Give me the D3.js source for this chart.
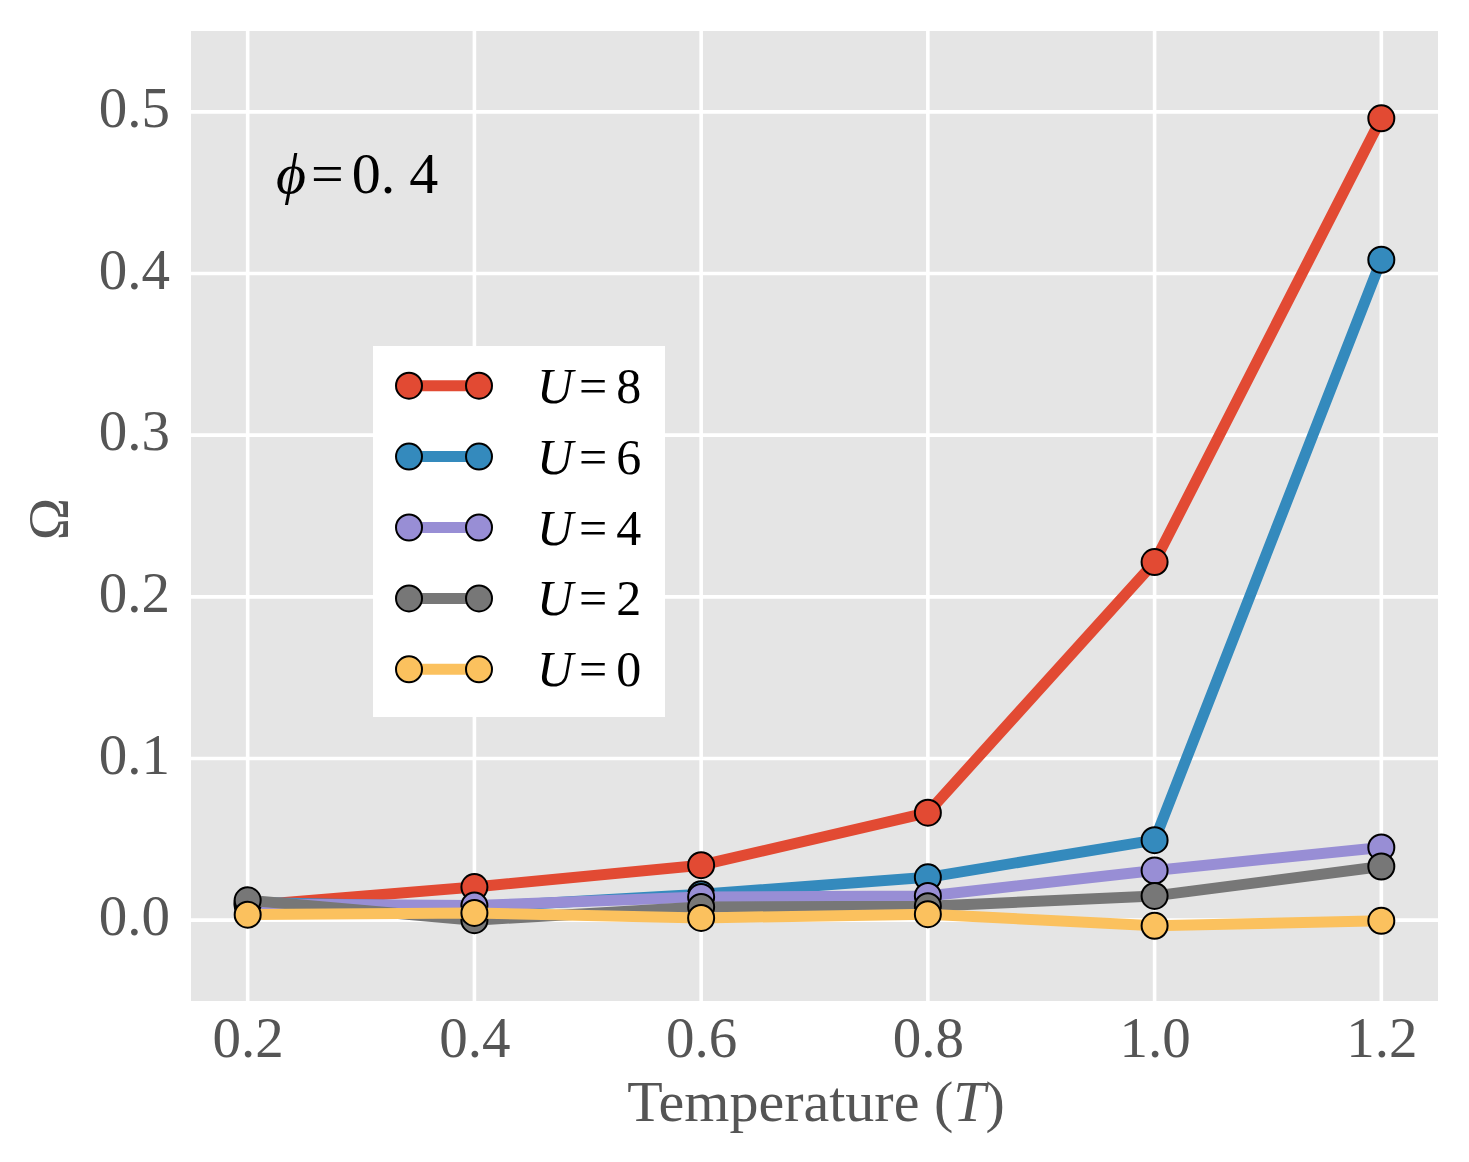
<!DOCTYPE html>
<html>
<head>
<meta charset="utf-8">
<script src="https://cdn.jsdelivr.net/npm/d3@7"></script>
<style>
body { margin: 0; background: #fff; }
text { font-family: "Liberation Serif", "DejaVu Serif", serif; }
</style>
</head>
<body>
<svg id="chart" width="1469" height="1162"></svg>
<script>
// values
const temperatures = [0.2, 0.4, 0.6, 0.8, 1.0, 1.2];
const seriesLabels = ["8", "6", "4", "2", "0"];
const omegaU8 = [0.009, 0.0205, 0.034, 0.0665, 0.2215, 0.496];
const omegaU6 = [0.011, 0.008, 0.016, 0.0265, 0.0495, 0.4085];
const omegaU4 = [0.010, 0.009, 0.0143, 0.015, 0.0307, 0.045];
const omegaU2 = [0.0123, 0.0, 0.0082, 0.0086, 0.015, 0.0332];
const omegaU0 = [0.0034, 0.0045, 0.0014, 0.0037, -0.0035, -0.0004];
const xTicks = [0.2, 0.4, 0.6, 0.8, 1.0, 1.2];
const yTicks = [0.0, 0.1, 0.2, 0.3, 0.4, 0.5];
const seriesColors = ["#E24A33", "#348ABD", "#988ED5", "#777777", "#FBC15E"];

const allSeries = [omegaU8, omegaU6, omegaU4, omegaU2, omegaU0];

const svg = d3.select("#chart");
const plotLeft = 191, plotRight = 1438, plotTop = 31, plotBottom = 1001;

const x = d3.scaleLinear().domain([0.15, 1.25]).range([plotLeft, plotRight]);
const y = d3.scaleLinear().domain([-0.05, 0.55]).range([plotBottom, plotTop]);

// panel background
svg.append("rect")
    .attr("x", plotLeft).attr("y", plotTop)
    .attr("width", plotRight - plotLeft).attr("height", plotBottom - plotTop)
    .attr("fill", "#E5E5E5");

// grid
const grid = svg.append("g").attr("stroke", "#fff").attr("stroke-width", 3.6);
grid.selectAll("line.gx").data(xTicks).join("line").attr("class", "gx")
    .attr("x1", d => x(d)).attr("x2", d => x(d))
    .attr("y1", plotTop).attr("y2", plotBottom);
grid.selectAll("line.gy").data(yTicks).join("line").attr("class", "gy")
    .attr("y1", d => y(d)).attr("y2", d => y(d))
    .attr("x1", plotLeft).attr("x2", plotRight);

// axes (tick labels only)
const xAxis = svg.append("g").attr("transform", "translate(0," + plotBottom + ")")
    .call(d3.axisBottom(x).tickValues(xTicks).tickFormat(d3.format(".1f")).tickSize(0).tickPadding(56));
const yAxis = svg.append("g").attr("transform", "translate(" + plotLeft + ",0)")
    .call(d3.axisLeft(y).tickValues(yTicks).tickFormat(d3.format(".1f")).tickSize(0).tickPadding(21));
[xAxis, yAxis].forEach(a => {
    a.select(".domain").remove();
    a.selectAll("text")
        .attr("fill", "#555555")
        .style("font-family", '"Liberation Serif", serif')
        .style("font-size", "57px");
});
xAxis.selectAll("text").attr("dy", null);
yAxis.selectAll("text").attr("dy", "0.26em");

// series
const line = d3.line().x((d, i) => x(temperatures[i])).y(d => y(d));
allSeries.forEach((values, k) => {
    const g = svg.append("g");
    g.append("path").datum(values)
        .attr("d", line)
        .attr("fill", "none")
        .attr("stroke", seriesColors[k])
        .attr("stroke-width", 11)
        .attr("stroke-linejoin", "round");
    g.selectAll("circle").data(values).join("circle")
        .attr("cx", (d, i) => x(temperatures[i]))
        .attr("cy", d => y(d))
        .attr("r", 13)
        .attr("fill", seriesColors[k])
        .attr("stroke", "#000")
        .attr("stroke-width", 2);
});

// annotation
const phi = svg.append("text")
    .attr("x", 276).attr("y", 193)
    .attr("fill", "#000")
    .style("font-size", "58px");
phi.append("tspan").style("font-style", "italic").text("\u03D5");
phi.append("tspan").attr("dx", 5).text("=");
phi.append("tspan").attr("dx", 8).text("0.");
phi.append("tspan").attr("dx", 14).text("4");

// legend
const legend = svg.append("g");
legend.append("rect")
    .attr("x", 373).attr("y", 346).attr("width", 292).attr("height", 371)
    .attr("fill", "#fff");
seriesLabels.forEach((label, k) => {
    const cy = 385.7 + k * 70.9;
    legend.append("line")
        .attr("x1", 409).attr("x2", 479).attr("y1", cy).attr("y2", cy)
        .attr("stroke", seriesColors[k]).attr("stroke-width", 11);
    [409, 479].forEach(cx => legend.append("circle")
        .attr("cx", cx).attr("cy", cy).attr("r", 13)
        .attr("fill", seriesColors[k]).attr("stroke", "#000").attr("stroke-width", 2));
    const t = legend.append("text")
        .attr("x", 537).attr("y", cy + 17)
        .attr("fill", "#000")
        .style("font-size", "50px");
    t.append("tspan").style("font-style", "italic").text("U");
    t.append("tspan").attr("dx", 6).text("=");
    t.append("tspan").attr("dx", 9).text(label);
});

// axis titles
const xTitle = svg.append("text")
    .attr("x", 816).attr("y", 1121)
    .attr("text-anchor", "middle")
    .attr("fill", "#555555")
    .style("font-size", "58px");
xTitle.append("tspan").text("Temperature (");
xTitle.append("tspan").style("font-style", "italic").text("T");
xTitle.append("tspan").text(")");

svg.append("text")
    .attr("transform", "translate(68,519) rotate(-90)")
    .attr("text-anchor", "middle")
    .attr("fill", "#555555")
    .style("font-size", "57px")
    .text("\u03A9");
</script>
</body>
</html>
